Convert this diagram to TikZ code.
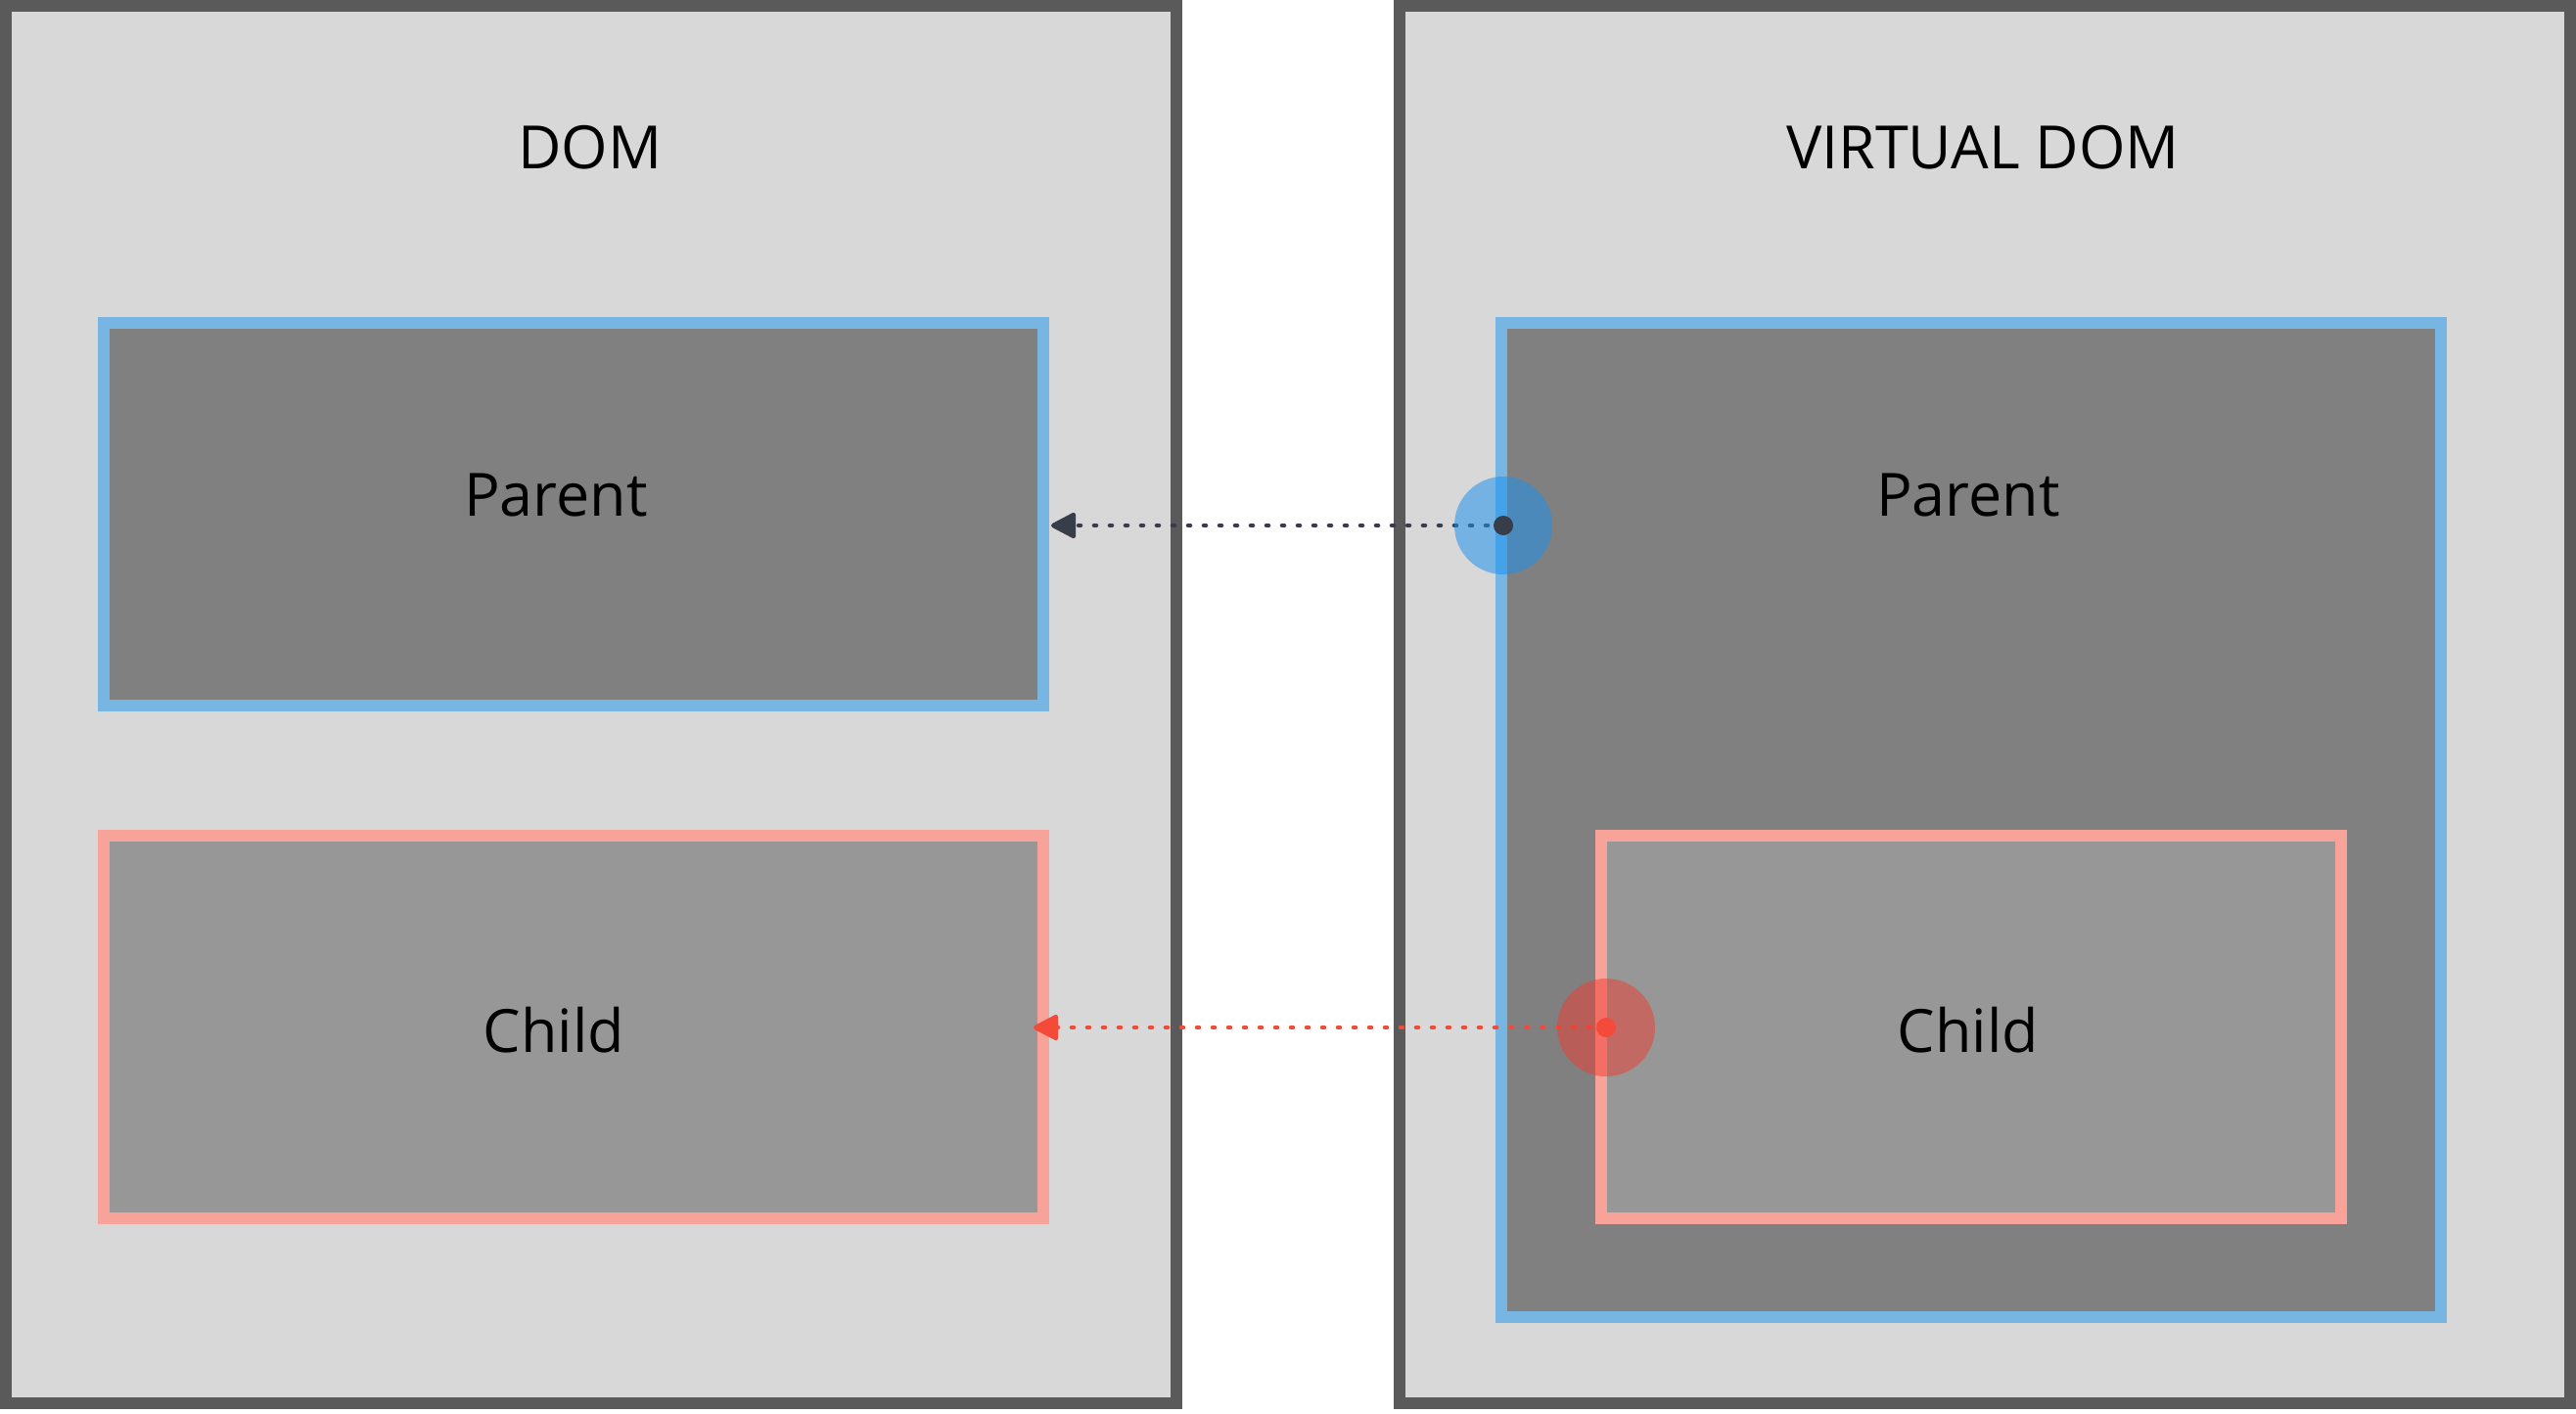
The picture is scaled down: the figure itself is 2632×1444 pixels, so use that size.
\documentclass[tikz,border=0pt]{standalone}
\usepackage{fontspec}
\setmainfont{Open Sans}
\usetikzlibrary{arrows.meta,calc}
\definecolor{panelborder}{HTML}{5A5A5A}
\definecolor{panelfill}{HTML}{D8D8D8}
\definecolor{parentfill}{HTML}{808080}
\definecolor{childfill}{HTML}{979797}
\definecolor{blueline}{HTML}{77B5E3}
\definecolor{pinkline}{HTML}{F7A39A}
\definecolor{darkarrow}{HTML}{383D4A}
\definecolor{redarrow}{HTML}{F44A3A}
\definecolor{bluehalo}{RGB}{26,146,237}
\definecolor{redhalo}{RGB}{240,60,50}
\begin{document}
\begin{tikzpicture}[x=1pt,y=-1pt,
  panel/.style={draw=panelborder, fill=panelfill, line width=12pt, rectangle, inner sep=0pt, minimum width=1196pt, minimum height=1428pt},
  pbox/.style={draw=blueline, fill=parentfill, line width=12pt, rectangle, inner sep=0pt},
  cbox/.style={draw=pinkline, fill=childfill, line width=12pt, rectangle, inner sep=0pt},
  lbl/.style={font=\fontsize{61}{73}\selectfont, text=black, anchor=base, inner sep=0pt},
  halo/.style={circle, minimum size=100pt, inner sep=0pt, draw=none},
  dotn/.style={circle, minimum size=20pt, inner sep=0pt, draw=none},
  link/.style={line width=4.6pt, line cap=round, dash pattern=on 2pt off 14pt, -{Triangle[length=28pt,width=28pt,round]}}
]
\useasboundingbox[fill=white] (0,0) rectangle (2632,1444);
% panels
\node[panel] (ldom) at (604,720) {};
\node[panel] (vdom) at (2028,720) {};
% boxes
\node[pbox, minimum width=960pt, minimum height=391pt] (lparent) at (586,525.5) {};
\node[cbox, minimum width=960pt, minimum height=391pt] (lchild) at (586,1049.5) {};
\node[pbox, minimum width=960pt, minimum height=1016pt] (rparent) at (2014,838) {};
\node[cbox, minimum width=756pt, minimum height=391pt] (rchild) at (2014,1049.5) {};
% labels
\node[lbl] (tdom) at (603,172) {DOM};
\node[lbl] (tvdom) at (2026,172) {VIRTUAL DOM};
\node[lbl] (tlparent) at (568,527) {Parent};
\node[lbl] (tlchild) at (566,1075) {Child};
\node[lbl] (trparent) at (2011,527) {Parent};
\node[lbl] (trchild) at (2011,1075) {Child};
% connectors
\coordinate (bc) at (1536,537);
\coordinate (rc) at (1641,1050);
\draw[link, draw=darkarrow] (bc) -- ($(lparent.east |- bc)+(2,0)$);
\draw[link, draw=redarrow] (rc) -- ($(lchild.east |- rc)+(-16,0)$);
% halos and dots
\node[halo, fill=bluehalo, fill opacity=0.53] (bhalo) at (bc) {};
\node[halo, fill=redhalo, fill opacity=0.5] (rhalo) at (rc) {};
\node[dotn, fill=darkarrow] (bdot) at (bc) {};
\node[dotn, fill=redarrow] (rdot) at (rc) {};
\end{tikzpicture}
\end{document}
